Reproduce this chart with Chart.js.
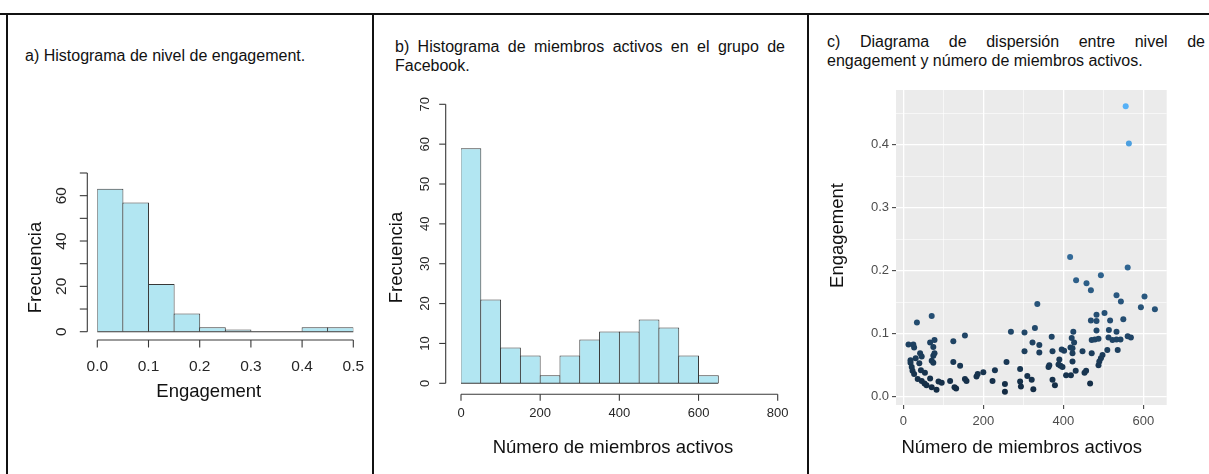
<!DOCTYPE html>
<html>
<head>
<meta charset="utf-8">
<script src="https://cdn.jsdelivr.net/npm/chart.js@4.4.1/dist/chart.umd.min.js"></script>
<style>
  body { margin: 0; background: #fff; width: 1209px; height: 474px; overflow: hidden; position: relative;
         font-family: "Liberation Sans", Arial, sans-serif; }
  canvas { position: absolute; left: 0; top: 0; }
  .rule { position: absolute; background: #111; }
  .cap { position: absolute; color: #111; font-size: 16px; line-height: 19px; }
  .just { text-align: justify; }
</style>
</head>
<body>
<div class="rule" style="left:0;top:13px;width:1209px;height:2px"></div>
<div class="rule" style="left:6px;top:14px;width:2px;height:460px"></div>
<div class="rule" style="left:371.5px;top:14px;width:2px;height:460px"></div>
<div class="rule" style="left:806.5px;top:14px;width:2px;height:460px"></div>

<div class="cap" style="left:25px;top:46px">a) Histograma de nivel de engagement.</div>
<div class="cap just" style="left:395px;top:37px;width:390px">b) Histograma de miembros activos en el grupo de Facebook.</div>
<div class="cap just" style="left:827px;top:32px;width:378px">c) Diagrama de dispersión entre nivel de engagement y número de miembros activos.</div>

<canvas id="histEng" width="1209" height="474"></canvas>
<canvas id="histMembers" width="1209" height="474"></canvas>
<canvas id="scatter" width="1209" height="474"></canvas>

<script>
// a) engagement histogram
const engBreaks = [0, 0.05, 0.1, 0.15, 0.2, 0.25, 0.3, 0.35, 0.4, 0.45, 0.5];
const engCounts = [63, 57, 21, 8, 2, 1, 0, 0, 2, 2];
const engTicks = [0, 0.1, 0.2, 0.3, 0.4, 0.5];
const engFreqTicks = [0, 10, 20, 30, 40, 50, 60, 70];
const engFreqLabels = [0, 20, 40, 60];

// b) active members histogram
const memBreaks = [0, 50, 100, 150, 200, 250, 300, 350, 400, 450, 500, 550, 600, 650];
const memCounts = [59, 21, 9, 7, 2, 7, 11, 13, 13, 16, 14, 7, 2];
const memTicks = [0, 200, 400, 600, 800];
const memFreqTicks = [0, 10, 20, 30, 40, 50, 60, 70];

// c) scatter: active members vs engagement
const activeMembers = [
  71, 34, 13, 25, 27, 67, 78, 75, 125, 154,
  42, 46, 75, 78, 31, 18, 18, 40, 71, 75,
  21, 23, 44, 54, 125, 142, 27, 36, 46, 53,
  67, 58, 71, 83, 88, 96, 117, 128, 132, 154,
  158, 183, 186, 200, 229, 223, 254, 254, 258, 269,
  303, 303, 292, 292, 294, 310, 417, 561, 432, 494,
  458, 469, 335, 533, 544, 603, 594, 629, 503, 483,
  469, 483, 517, 550, 329, 483, 514, 533, 425, 371,
  421, 471, 479, 488, 513, 523, 533, 543, 561, 569,
  323, 340, 427, 418, 340, 373, 396, 402, 423, 448,
  423, 471, 510, 536, 498, 390, 423, 494, 490, 488,
  363, 365, 388, 393, 398, 431, 453, 457, 373, 407,
  419, 379, 467, 321, 325, 556, 564
];
const engagementLevel = [
  0.128, 0.118, 0.083, 0.083, 0.078, 0.086, 0.090, 0.079, 0.088, 0.097,
  0.069, 0.064, 0.065, 0.069, 0.061, 0.058, 0.054, 0.053, 0.057, 0.054,
  0.047, 0.041, 0.042, 0.038, 0.055, 0.049, 0.036, 0.028, 0.025, 0.021,
  0.029, 0.018, 0.015, 0.011, 0.024, 0.022, 0.025, 0.015, 0.013, 0.028,
  0.025, 0.032, 0.036, 0.039, 0.042, 0.025, 0.020, 0.008, 0.055, 0.103,
  0.102, 0.072, 0.044, 0.024, 0.016, 0.033, 0.222, 0.205, 0.185, 0.193,
  0.180, 0.169, 0.147, 0.161, 0.151, 0.159, 0.142, 0.139, 0.133, 0.130,
  0.121, 0.120, 0.121, 0.123, 0.109, 0.105, 0.106, 0.103, 0.103, 0.095,
  0.093, 0.090, 0.091, 0.092, 0.094, 0.090, 0.091, 0.091, 0.096, 0.094,
  0.086, 0.082, 0.086, 0.078, 0.070, 0.072, 0.075, 0.073, 0.077, 0.072,
  0.069, 0.069, 0.074, 0.074, 0.066, 0.059, 0.056, 0.061, 0.056, 0.050,
  0.047, 0.050, 0.051, 0.049, 0.047, 0.041, 0.038, 0.041, 0.027, 0.034,
  0.034, 0.018, 0.021, 0.027, 0.012, 0.461, 0.402
];

const FONT = '"Liberation Sans", Arial, sans-serif';
const barFill = "#b2e6f2";
const barLine = "#383838";

function histData(breaks, counts) {
  return counts.map((c, i) => ({ x: (breaks[i] + breaks[i + 1]) / 2, y: c }));
}

function drawLine(ctx, x1, y1, x2, y2) {
  ctx.beginPath();
  ctx.moveTo(x1, y1);
  ctx.lineTo(x2, y2);
  ctx.stroke();
}

// base R style axes: detached lines, outward ticks, rotated y labels
const rAxes = {
  id: "rAxes",
  afterDraw(chart, args, o) {
    if (!o.xTicks) return;
    const { ctx, chartArea: area, scales: { x, y } } = chart;
    ctx.save();
    ctx.strokeStyle = barLine;
    ctx.lineWidth = 1.1;

    const y0 = y.getPixelForValue(0);
    drawLine(ctx, x.getPixelForValue(o.base[0]), y0, x.getPixelForValue(o.base[1]), y0);

    const ax = area.bottom + o.xGap;
    drawLine(ctx, x.getPixelForValue(o.xTicks[0]), ax, x.getPixelForValue(o.xTicks[o.xTicks.length - 1]), ax);
    o.xTicks.forEach((v) => {
      const px = x.getPixelForValue(v);
      drawLine(ctx, px, ax, px, ax + o.tick);
    });

    const ay = area.left - o.yGap;
    drawLine(ctx, ay, y.getPixelForValue(o.yTicks[0]), ay, y.getPixelForValue(o.yTicks[o.yTicks.length - 1]));
    o.yTicks.forEach((v) => {
      const py = y.getPixelForValue(v);
      drawLine(ctx, ay, py, ay - o.tick, py);
    });

    ctx.fillStyle = "#262626";
    ctx.textAlign = "center";
    ctx.textBaseline = "middle";
    ctx.font = `${o.tickFont}px ${FONT}`;
    o.xTicks.forEach((v) => {
      ctx.fillText(o.xFmt(v), x.getPixelForValue(v), area.bottom + o.xLabelOff);
    });
    o.yLabels.forEach((v) => {
      ctx.save();
      ctx.translate(area.left - o.yLabelOff, y.getPixelForValue(v));
      ctx.rotate(-Math.PI / 2);
      ctx.fillText(String(v), 0, 0);
      ctx.restore();
    });
    ctx.restore();
  }
};

// axis titles placed like in the source figure
const axisTitles = {
  id: "axisTitles",
  afterDraw(chart, args, o) {
    if (!o.x) return;
    const { ctx } = chart;
    ctx.save();
    ctx.fillStyle = "#111";
    ctx.textAlign = "center";
    ctx.textBaseline = "middle";
    ctx.font = `${o.size}px ${FONT}`;
    ctx.fillText(o.x.text, o.x.cx, o.x.cy);
    ctx.translate(o.y.cx, o.y.cy);
    ctx.rotate(-Math.PI / 2);
    ctx.fillText(o.y.text, 0, 0);
    ctx.restore();
  }
};

const panelBg = {
  id: "panelBg",
  beforeDraw(chart, args, o) {
    if (!o.color) return;
    const { ctx, chartArea: a } = chart;
    ctx.save();
    ctx.fillStyle = o.color;
    ctx.fillRect(a.left, a.top, a.right - a.left, a.bottom - a.top);
    ctx.restore();
  }
};

function histOptions(pad, xMin, xMax, yMax, axes, titles) {
  return {
    responsive: false,
    animation: false,
    layout: { padding: pad },
    scales: {
      x: { type: "linear", min: xMin, max: xMax, offset: false, display: false },
      y: { min: 0, max: yMax, display: false }
    },
    plugins: {
      legend: { display: false },
      tooltip: { enabled: false },
      rAxes: axes,
      axisTitles: titles
    }
  };
}

function histDataset(breaks, counts, pct) {
  return {
    data: histData(breaks, counts),
    backgroundColor: barFill,
    borderColor: barLine,
    borderWidth: 1,
    borderSkipped: "start",
    barPercentage: pct,
    categoryPercentage: 1
  };
}

new Chart(document.getElementById("histEng"), {
  type: "bar",
  data: { datasets: [histDataset(engBreaks, engCounts, 1.04)] },
  options: histOptions(
    { left: 97.3, right: 1209 - 353.3, top: 173, bottom: 474 - 331.7 },
    0, 0.5, 70,
    {
      base: [engBreaks[0], engBreaks[engBreaks.length - 1]],
      xTicks: engTicks, xFmt: (v) => v.toFixed(1),
      yTicks: engFreqTicks, yLabels: engFreqLabels,
      xGap: 8.3, yGap: 10, tick: 7.5,
      xLabelOff: 35, yLabelOff: 35.6, tickFont: 15.5
    },
    { size: 18.5, x: { text: "Engagement", cx: 208.8, cy: 391.7 }, y: { text: "Frecuencia", cx: 36, cy: 267.5 } }
  ),
  plugins: [rAxes, axisTitles]
});

new Chart(document.getElementById("histMembers"), {
  type: "bar",
  data: { datasets: [histDataset(memBreaks, memCounts, 1.05)] },
  options: histOptions(
    { left: 461, right: 1209 - 777.7, top: 104.3, bottom: 474 - 383.3 },
    0, 800, 70,
    {
      base: [memBreaks[0], memBreaks[memBreaks.length - 1]],
      xTicks: memTicks, xFmt: (v) => String(v),
      yTicks: memFreqTicks, yLabels: memFreqTicks,
      xGap: 11, yGap: 15.3, tick: 6.5,
      xLabelOff: 30, yLabelOff: 36, tickFont: 13
    },
    { size: 18.5, x: { text: "Número de miembros activos", cx: 613, cy: 448.3 }, y: { text: "Frecuencia", cx: 396.7, cy: 257.5 } }
  ),
  plugins: [rAxes, axisTitles]
});

// ggplot-like continuous colour scale on engagement
const lowCol = [19, 43, 67];
const highCol = [86, 177, 247];
const engMin = Math.min(...engagementLevel);
const engMax = Math.max(...engagementLevel);
function engColor(v) {
  const t = (v - engMin) / (engMax - engMin);
  const c = lowCol.map((l, i) => Math.round(l + (highCol[i] - l) * t));
  return `rgb(${c[0]}, ${c[1]}, ${c[2]})`;
}

const isMajorX = (v) => v % 200 === 0;
const isMajorY = (v) => Math.abs(v * 10 - Math.round(v * 10)) < 1e-6;

new Chart(document.getElementById("scatter"), {
  type: "scatter",
  data: {
    datasets: [{
      data: activeMembers.map((m, i) => ({ x: m, y: engagementLevel[i] })),
      pointRadius: 3,
      pointBorderWidth: 0,
      pointBackgroundColor: (c) => engColor(c.raw.y)
    }]
  },
  options: {
    responsive: false,
    animation: false,
    layout: { padding: { left: 836, right: 1209 - 1166.7, top: 90, bottom: 0 } },
    scales: {
      x: {
        type: "linear", min: -18.3, max: 658.5,
        afterFit: (s) => { s.height = 69; },
        border: { display: false },
        grid: {
          color: "#ffffff",
          lineWidth: (c) => (isMajorX(c.tick.value) ? 1.3 : 0.6),
          tickLength: 4,
          tickWidth: 1,
          tickColor: (c) => (isMajorX(c.tick.value) ? "#333333" : "rgba(0,0,0,0)")
        },
        ticks: {
          stepSize: 100, autoSkip: false, includeBounds: false, maxRotation: 0, padding: 5,
          color: "#4d4d4d", font: { size: 13, family: FONT },
          callback: (v) => (isMajorX(v) ? String(v) : "")
        }
      },
      y: {
        min: -0.0132, max: 0.487,
        afterFit: (s) => { s.width = 60; },
        border: { display: false },
        grid: {
          color: "#ffffff",
          lineWidth: (c) => (isMajorY(c.tick.value) ? 1.3 : 0.6),
          tickLength: 4,
          tickWidth: 1,
          tickColor: (c) => (isMajorY(c.tick.value) ? "#333333" : "rgba(0,0,0,0)")
        },
        ticks: {
          stepSize: 0.05, autoSkip: false, includeBounds: false, padding: 3,
          color: "#4d4d4d", font: { size: 13, family: FONT },
          callback: (v) => (isMajorY(v) ? v.toFixed(1) : "")
        }
      }
    },
    plugins: {
      legend: { display: false },
      tooltip: { enabled: false },
      panelBg: { color: "#ebebeb" },
      axisTitles: { size: 18.5, x: { text: "Número de miembros activos", cx: 1021.7, cy: 448.3 }, y: { text: "Engagement", cx: 838.3, cy: 235.5 } }
    }
  },
  plugins: [panelBg, axisTitles]
});
</script>
</body>
</html>
